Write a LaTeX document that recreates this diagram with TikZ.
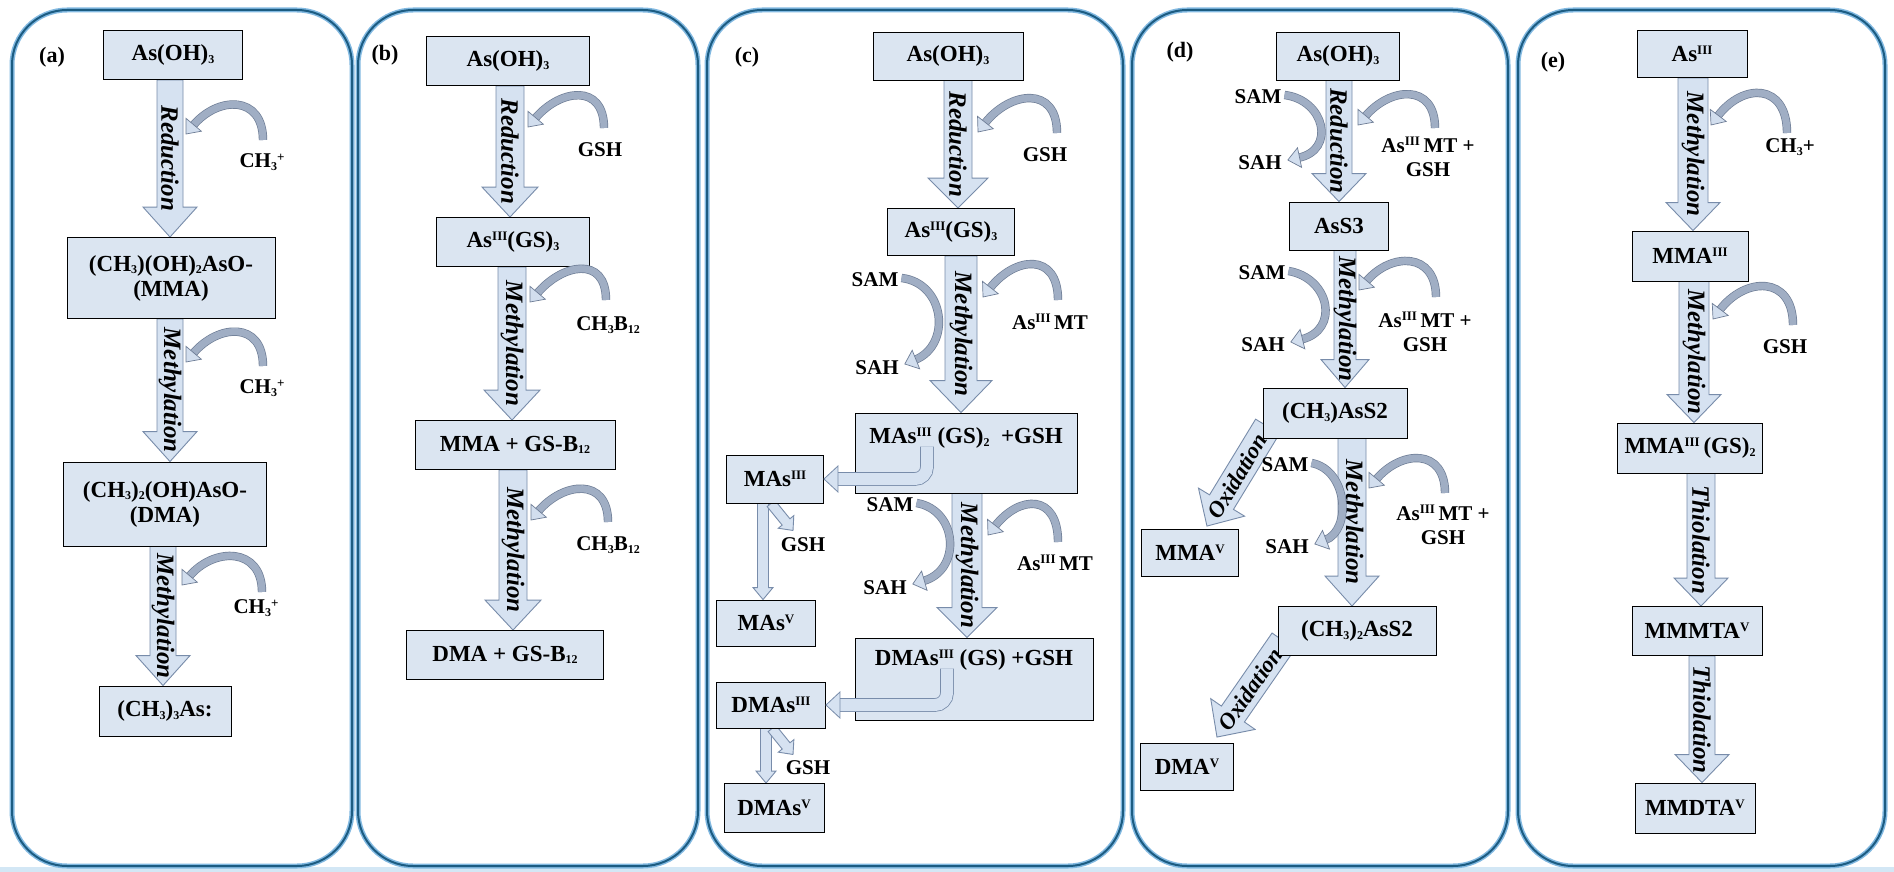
\documentclass[tikz,border=0pt]{standalone}
\usepackage{fontspec}
\setmainfont{Liberation Serif}
\usetikzlibrary{calc}
\pgfdeclarelayer{bg}
\pgfdeclarelayer{arr}
\pgfsetlayers{bg,arr,main}

\definecolor{boxfill}{RGB}{219,229,241}
\definecolor{arrfill}{RGB}{214,226,241}
\definecolor{arredge}{RGB}{120,140,170}
\definecolor{bandfill}{RGB}{160,174,196}
\definecolor{bandedge}{RGB}{110,125,150}
\definecolor{headfill}{RGB}{210,222,238}
\definecolor{paneldark}{RGB}{28,92,130}
\definecolor{panellight}{RGB}{130,185,225}

\newcommand\sbs[1]{\raisebox{-0.25ex}{\fontsize{12pt}{12pt}\selectfont #1}}
\newcommand\sps[1]{\raisebox{0.7ex}{\fontsize{13pt}{13pt}\selectfont #1}}

\tikzset{
 box/.style={draw=black, line width=0.9pt, fill=boxfill, inner sep=2pt, align=center, font=\fontsize{23pt}{25pt}\selectfont\bfseries},
 boxtext/.style={inner sep=0pt, align=center, font=\fontsize{23pt}{25pt}\selectfont\bfseries},
 lbl/.style={inner sep=0pt, align=center, font=\fontsize{21pt}{24pt}\selectfont\bfseries},
 plbl/.style={inner sep=0pt, font=\fontsize{22pt}{24pt}\selectfont\bfseries},
 arrowtext/.style={inner sep=0pt, font=\fontsize{25pt}{25pt}\selectfont\bfseries\itshape},
 oxtext/.style={font=\fontsize{23pt}{23pt}\selectfont\bfseries\itshape},
 barrow/.style={draw=arredge, line width=0.9pt, fill=arrfill, line join=miter},
 band/.style={draw=bandedge, line width=0.7pt, double=bandfill, double distance=7pt},
 lband/.style={draw=arredge, line width=0.8pt, double=arrfill, double distance=12pt, rounded corners=12pt},
 bandhead/.style={draw=bandedge, line width=0.7pt, fill=headfill, line join=miter},
 lhead/.style={draw=arredge, line width=0.8pt, fill=arrfill, line join=miter},
 panel/.style={rounded corners=55pt},
}

% block arrow: tail, tip, shaft half, head half, head length, label options, label, label name
\newcommand\barrow[8]{%
 \coordinate (bH) at ($(#2)!#5!(#1)$);
 \filldraw[barrow] ($(#1)!#3!90:(#2)$) -- ($(bH)!#3!90:(#2)$) -- ($(bH)!#4!90:(#2)$) -- (#2) -- ($(bH)!#4!-90:(#2)$) -- ($(bH)!#3!-90:(#2)$) -- ($(#1)!#3!-90:(#2)$) -- cycle;
 \node[arrowtext, rotate=#6] (#8) at ($(#1)!0.5!(#2)$) {#7};
}
% arrow head: style, direction point, tip, half width, length
\newcommand\ahead[5]{%
 \coordinate (hB) at ($(#3)!#5!(#2)$);
 \filldraw[#1] (#3) -- ($(hB)!#4!90:(#3)$) -- ($(hB)!#4!-90:(#3)$) -- cycle;
}
% hook: start, end, height
\newcommand\hook[3]{%
 \coordinate (hkc) at ($(#2)+(32,-0.85*#3)$);
 \draw[band, shorten >=11pt] (#1) .. controls ($(#1)+(0,-#3)$) and (hkc) .. (#2);
 \ahead{bandhead}{hkc}{#2}{10pt}{12pt}
}
% SAM curve: start, c1, c2, end
\newcommand\scurve[4]{%
 \draw[band, shorten >=11pt] (#1) .. controls (#2) and (#3) .. (#4);
 \ahead{bandhead}{#3}{#4}{10pt}{12pt}
}

\begin{document}
\begin{tikzpicture}[x=1pt,y=-1pt]
\useasboundingbox (0,0) rectangle (1894,872);

% ---------- panel a
\node[plbl] (la) at (52,57) {(a)};
\node[box, minimum width=139pt, minimum height=49pt] (a1) at (173,55) {As(OH)\sbs{3}};
\node[box, minimum width=208pt, minimum height=81pt] (a2) at (171,278) {(CH\sbs{3})(OH)\sbs{2}AsO-\\(MMA)};
\node[box, minimum width=203pt, minimum height=84pt] (a3) at (165,504) {(CH\sbs{3})\sbs{2}(OH)AsO-\\(DMA)};
\node[box, minimum width=132pt, minimum height=50pt] (a4) at (165,711) {(CH\sbs{3})\sbs{3}As:};
\node[lbl] (ga1) at (262,162) {CH\sbs{3}\sps{+}};
\node[lbl] (ga2) at (262,388) {CH\sbs{3}\sps{+}};
\node[lbl] (ga3) at (256,608) {CH\sbs{3}\sps{+}};

% ---------- panel b
\node[plbl] (lb) at (385,55) {(b)};
\node[box, minimum width=163pt, minimum height=49pt] (b1) at (508,61) {As(OH)\sbs{3}};
\node[box, minimum width=153pt, minimum height=49pt] (b2) at (513,242) {As\sps{III}(GS)\sbs{3}};
\node[box, minimum width=200pt, minimum height=49pt] (b3) at (515,445) {MMA + GS-B\sbs{12}};
\node[box, minimum width=197pt, minimum height=49pt] (b4) at (505,655) {DMA + GS-B\sbs{12}};
\node[lbl] (gb1) at (600,150) {GSH};
\node[lbl] (gb2) at (608,325) {CH\sbs{3}B\sbs{12}};
\node[lbl] (gb3) at (608,545) {CH\sbs{3}B\sbs{12}};

% ---------- panel c
\node[plbl] (lc) at (747,57) {(c)};
\node[box, minimum width=150pt, minimum height=48pt] (c1) at (948,56) {As(OH)\sbs{3}};
\node[box, minimum width=127pt, minimum height=47pt] (c2) at (951,232) {As\sps{III}(GS)\sbs{3}};
\node[box, minimum width=222pt, minimum height=80pt] (c3) at (966,453) {};
\node[boxtext] (c3t) at (966,438) {MAs\sps{III} (GS)\sbs{2} \ +GSH};
\node[box, minimum width=97pt, minimum height=48pt] (c4) at (775,479) {MAs\sps{III}};
\node[box, minimum width=99pt, minimum height=46pt] (c5) at (766,623) {MAs\sps{V}};
\node[box, minimum width=238pt, minimum height=82pt] (c6) at (974,679) {};
\node[boxtext] (c6t) at (974,660) {DMAs\sps{III} (GS) +GSH};
\node[box, minimum width=109pt, minimum height=46pt] (c7) at (771,705) {DMAs\sps{III}};
\node[box, minimum width=100pt, minimum height=49pt] (c8) at (774,808) {DMAs\sps{V}};
\node[lbl] (gc1) at (1045,155) {GSH};
\node[lbl] (gc2) at (1050,322) {As\sps{III}\,MT};
\node[lbl] (gc3) at (1055,563) {As\sps{III}\,MT};
\node[lbl] (sc1) at (875,280) {SAM};
\node[lbl] (hc1) at (877,368) {SAH};
\node[lbl] (sc2) at (890,505) {SAM};
\node[lbl] (hc2) at (885,588) {SAH};
\node[lbl] (gc4) at (803,545) {GSH};
\node[lbl] (gc5) at (808,768) {GSH};

% ---------- panel d
\node[plbl] (ld) at (1180,52) {(d)};
\node[box, minimum width=123pt, minimum height=48pt] (d1) at (1338,56) {As(OH)\sbs{3}};
\node[box, minimum width=99pt, minimum height=48pt] (d2) at (1339,226) {AsS3};
\node[box, minimum width=144pt, minimum height=50pt] (d3) at (1335,413) {(CH\sbs{3})AsS2};
\node[box, minimum width=158pt, minimum height=49pt] (d4) at (1357,631) {(CH\sbs{3})\sbs{2}AsS2};
\node[box, minimum width=97pt, minimum height=47pt] (d5) at (1190,553) {MMA\sps{V}};
\node[box, minimum width=93pt, minimum height=47pt] (d6) at (1187,767) {DMA\sps{V}};
\node[lbl] (gd1) at (1428,157) {As\sps{III}\,MT +\\GSH};
\node[lbl] (gd2) at (1425,332) {As\sps{III}\,MT +\\GSH};
\node[lbl] (gd3) at (1443,525) {As\sps{III}\,MT +\\GSH};
\node[lbl] (sd1) at (1258,97) {SAM};
\node[lbl] (hd1) at (1260,163) {SAH};
\node[lbl] (sd2) at (1262,273) {SAM};
\node[lbl] (hd2) at (1263,345) {SAH};
\node[lbl] (sd3) at (1285,465) {SAM};
\node[lbl] (hd3) at (1287,547) {SAH};

% ---------- panel e
\node[plbl] (le) at (1553,62) {(e)};
\node[box, minimum width=110pt, minimum height=47pt] (e1) at (1692,54) {As\sps{III}};
\node[box, minimum width=116pt, minimum height=50pt] (e2) at (1690,256) {MMA\sps{III}};
\node[box, minimum width=145pt, minimum height=50pt] (e3) at (1690,448) {MMA\sps{III}\,(GS)\sbs{2}};
\node[box, minimum width=130pt, minimum height=49pt] (e4) at (1697,631) {MMMTA\sps{V}};
\node[box, minimum width=120pt, minimum height=50pt] (e5) at (1695,808) {MMDTA\sps{V}};
\node[lbl] (ge1) at (1790,147) {CH\sbs{3}+};
\node[lbl] (ge2) at (1785,347) {GSH};

% ---------- block arrows
\begin{pgfonlayer}{arr}
\coordinate (aT1) at ($(a1.south)+(-3,0)$); \coordinate (aP1) at (aT1 |- a2.north);
\barrow{aT1}{aP1}{13pt}{27pt}{30pt}{-90}{Reduction}{ra1}
\coordinate (aT2) at ($(a2.south)+(-1,0)$); \coordinate (aP2) at (aT2 |- a3.north);
\barrow{aT2}{aP2}{13pt}{27pt}{30pt}{-90}{Methylation}{ra2}
\coordinate (aT3) at ($(a3.south)+(-2,0)$); \coordinate (aP3) at (aT3 |- a4.north);
\barrow{aT3}{aP3}{13pt}{27pt}{30pt}{-90}{Methylation}{ra3}

\coordinate (bT1) at ($(b1.south)+(2,0)$); \coordinate (bP1) at (bT1 |- b2.north);
\barrow{bT1}{bP1}{14pt}{28pt}{30pt}{-90}{Reduction}{rb1}
\coordinate (bT2) at ($(b2.south)+(-1,0)$); \coordinate (bP2) at (bT2 |- b3.north);
\barrow{bT2}{bP2}{14pt}{28pt}{30pt}{-90}{Methylation}{rb2}
\coordinate (bT3) at ($(b3.south)+(-2,0)$); \coordinate (bP3) at (bT3 |- b4.north);
\barrow{bT3}{bP3}{14pt}{28pt}{30pt}{-90}{Methylation}{rb3}

\coordinate (cT1) at ($(c1.south)+(10,0)$); \coordinate (cP1) at (cT1 |- c2.north);
\barrow{cT1}{cP1}{14pt}{30pt}{30pt}{-90}{Reduction}{rc1}
\coordinate (cT2) at ($(c2.south)+(10,0)$); \coordinate (cP2) at (cT2 |- c3.north);
\barrow{cT2}{cP2}{16pt}{31pt}{32pt}{-90}{Methylation}{rc2}
\coordinate (cT3) at ($(c3.south)+(1,0)$); \coordinate (cP3) at (cT3 |- c6.north);
\barrow{cT3}{cP3}{15pt}{30pt}{30pt}{-90}{Methylation}{rc3}
\coordinate (cT4) at ($(c4.south)+(-12,0)$); \coordinate (cP4) at (cT4 |- c5.north);
\barrow{cT4}{cP4}{5.5pt}{10pt}{12pt}{-90}{}{rc4}
\coordinate (cT5) at ($(c7.south)+(-5,0)$); \coordinate (cP5) at (cT5 |- c8.north);
\barrow{cT5}{cP5}{5.5pt}{10pt}{12pt}{-90}{}{rc5}
\coordinate (cD1) at ($(c4.south)+(-4,0)$); \coordinate (cE1) at ($(c4.south)+(18,27)$);
\barrow{cD1}{cE1}{5pt}{10pt}{11pt}{0}{}{rc6}
\coordinate (cD2) at ($(c7.south)+(1,0)$); \coordinate (cE2) at ($(c7.south)+(22,26)$);
\barrow{cD2}{cE2}{5pt}{10pt}{11pt}{0}{}{rc7}

\coordinate (dT1) at ($(d1.south)+(1,0)$); \coordinate (dP1) at (dT1 |- d2.north);
\barrow{dT1}{dP1}{13pt}{27pt}{28pt}{-90}{Reduction}{rd1}
\coordinate (dT2) at ($(d2.south)+(6,0)$); \coordinate (dP2) at (dT2 |- d3.north);
\barrow{dT2}{dP2}{11pt}{24pt}{28pt}{-90}{Methylation}{rd2}
\coordinate (dT3) at ($(d3.south)+(17,0)$); \coordinate (dP3) at (dT3 |- d4.north);
\barrow{dT3}{dP3}{14pt}{27pt}{30pt}{-90}{Methylation}{rd3}
\coordinate (dO1) at ($(d3.south west)+(5,-12)$); \coordinate (dQ1) at ($(d5.north east)+(-32,-3)$);
\barrow{dO1}{dQ1}{14pt}{27pt}{28pt}{59,oxtext}{Oxidation}{rd4}
\coordinate (dO2) at ($(d4.west)+(6,10)$); \coordinate (dQ2) at ($(d6.north east)+(-17,-6)$);
\barrow{dO2}{dQ2}{14pt}{27pt}{28pt}{55,oxtext}{Oxidation}{rd5}

\coordinate (eT1) at ($(e1.south)+(1,0)$); \coordinate (eP1) at (eT1 |- e2.north);
\barrow{eT1}{eP1}{15pt}{27pt}{28pt}{-90}{Methylation}{re1}
\coordinate (eT2) at ($(e2.south)+(4,0)$); \coordinate (eP2) at (eT2 |- e3.north);
\barrow{eT2}{eP2}{15pt}{27pt}{28pt}{-90}{Methylation}{re2}
\coordinate (eT3) at ($(e3.south)+(11,0)$); \coordinate (eP3) at (eT3 |- e4.north);
\barrow{eT3}{eP3}{14pt}{27pt}{28pt}{-90}{Thiolation}{re3}
\coordinate (eT4) at ($(e4.south)+(5,0)$); \coordinate (eP4) at (eT4 |- e5.north);
\barrow{eT4}{eP4}{13pt}{27pt}{28pt}{-90}{Thiolation}{re4}
\end{pgfonlayer}

% ---------- panels
\begin{pgfonlayer}{bg}
\fill[white] (0,0) rectangle (1894,872);
\fill[panellight!35] (0,867) rectangle (1894,872);
\foreach \xa/\xb in {12/352, 358/698, 707/1123, 1132/1508, 1518/1885}{
 \draw[panellight, line width=5pt, panel] (\xa,10) rectangle (\xb,866);
 \draw[paneldark, line width=2pt, panel] (\xa,10) rectangle (\xb,866);
}
\end{pgfonlayer}

% ---------- hooks (right side)
\coordinate (ha1s) at (263,140); \coordinate (ha1e) at (186,134); \hook{ha1s}{ha1e}{45}
\coordinate (ha2s) at (263,366); \coordinate (ha2e) at (186,362); \hook{ha2s}{ha2e}{45}
\coordinate (ha3s) at (262,592); \coordinate (ha3e) at (182,585); \hook{ha3s}{ha3e}{45}
\coordinate (hb1s) at (604,128); \coordinate (hb1e) at (528,127); \hook{hb1s}{hb1e}{45}
\coordinate (hb2s) at (606,300); \coordinate (hb2e) at (530,302); \hook{hb2s}{hb2e}{45}
\coordinate (hb3s) at (608,522); \coordinate (hb3e) at (531,520); \hook{hb3s}{hb3e}{45}
\coordinate (hc1s) at (1057,133); \coordinate (hc1e) at (978,132); \hook{hc1s}{hc1e}{48}
\coordinate (hc2s) at (1058,300); \coordinate (hc2e) at (983,297); \hook{hc2s}{hc2e}{48}
\coordinate (hc3s) at (1058,542); \coordinate (hc3e) at (988,535); \hook{hc3s}{hc3e}{48}
\coordinate (hd1s) at (1435,128); \coordinate (hd1e) at (1358,125); \hook{hd1s}{hd1e}{45}
\coordinate (hd2s) at (1436,297); \coordinate (hd2e) at (1359,290); \hook{hd2s}{hd2e}{45}
\coordinate (hd3s) at (1445,493); \coordinate (hd3e) at (1369,488); \hook{hd3s}{hd3e}{45}
\coordinate (he1s) at (1787,133); \coordinate (he1e) at (1711,125); \hook{he1s}{he1e}{50}
\coordinate (he2s) at (1793,325); \coordinate (he2e) at (1713,319); \hook{he2s}{he2e}{50}

% ---------- SAM -> SAH curves
\coordinate (sc1s) at ($(sc1.east)+(3,-2)$); \coordinate (sc1e) at ($(hc1.east)+(6,-4)$);
\scurve{sc1s}{945,283}{952,345}{sc1e}
\coordinate (sc2s) at ($(sc2.east)+(3,-2)$); \coordinate (sc2e) at ($(hc2.east)+(6,-4)$);
\scurve{sc2s}{958,510}{962,570}{sc2e}
\coordinate (sd1s) at ($(sd1.east)+(3,-2)$); \coordinate (sd1e) at ($(hd1.east)+(6,-3)$);
\scurve{sd1s}{1325,100}{1336,150}{sd1e}
\coordinate (sd2s) at ($(sd2.east)+(3,-2)$); \coordinate (sd2e) at ($(hd2.east)+(6,-3)$);
\scurve{sd2s}{1330,278}{1340,330}{sd2e}
\coordinate (sd3s) at ($(sd3.east)+(3,-2)$); \coordinate (sd3e) at ($(hd3.east)+(6,-3)$);
\scurve{sd3s}{1348,470}{1352,530}{sd3e}

% ---------- L-shaped release arrows
\coordinate (l1s) at ($(c3t.south)+(-39,-2)$); \coordinate (l1c) at (l1s |- c4.east);
\draw[lband, shorten >=13pt] (l1s) |- (c4.east);
\ahead{lhead}{l1c}{c4.east}{13pt}{14pt}
\coordinate (l2s) at ($(c6t.south)+(-27,-2)$); \coordinate (l2c) at (l2s |- c7.east);
\draw[lband, shorten >=13pt] (l2s) |- (c7.east);
\ahead{lhead}{l2c}{c7.east}{13pt}{14pt}

\end{tikzpicture}
\end{document}
